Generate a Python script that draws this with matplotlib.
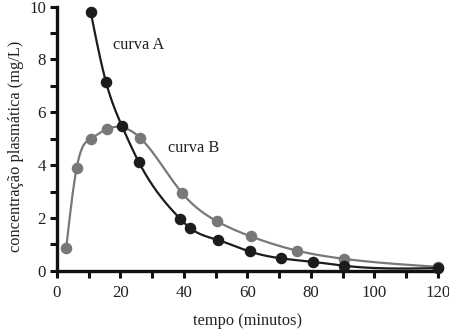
import numpy as np
import matplotlib
matplotlib.use("Agg")
import matplotlib.pyplot as plt

# Data
tempo_A = [10.6, 15.4, 20.5, 25.7, 38.8, 41.8, 50.6, 60.7, 70.6, 80.6, 90.4, 120]
conc_A = [9.8, 7.16, 5.47, 4.13, 1.97, 1.63, 1.17, 0.73, 0.47, 0.34, 0.19, 0.10]
tempo_B = [2.9, 6.2, 10.6, 15.8, 26.2, 39.5, 50.3, 61.1, 75.7, 90.5, 120]
conc_B = [0.87, 3.9, 5.0, 5.37, 5.03, 2.93, 1.88, 1.30, 0.76, 0.45, 0.15]
xticks_major = [0, 20, 40, 60, 80, 100, 120]
yticks_major = [0, 2, 4, 6, 8, 10]


def natural_spline(x, y, n=400):
    x = np.asarray(x, float); y = np.asarray(y, float)
    m = len(x)
    h = np.diff(x)
    A = np.zeros((m, m)); r = np.zeros(m)
    A[0, 0] = 1; A[-1, -1] = 1
    for i in range(1, m - 1):
        A[i, i - 1] = h[i - 1]
        A[i, i] = 2 * (h[i - 1] + h[i])
        A[i, i + 1] = h[i]
        r[i] = 6 * ((y[i + 1] - y[i]) / h[i] - (y[i] - y[i - 1]) / h[i - 1])
    M = np.linalg.solve(A, r)
    xs = np.linspace(x[0], x[-1], n)
    idx = np.clip(np.searchsorted(x, xs) - 1, 0, m - 2)
    x0 = x[idx]; x1 = x[idx + 1]; hh = x1 - x0
    a = (x1 - xs) / hh; b = (xs - x0) / hh
    ys = a * y[idx] + b * y[idx + 1] + ((a**3 - a) * M[idx] + (b**3 - b) * M[idx + 1]) * hh**2 / 6
    return xs, ys


plt.rcParams['font.family'] = ['Liberation Serif', 'DejaVu Serif']
fig = plt.figure(figsize=(4.49, 3.29), dpi=100)
ax = fig.add_axes([0.127, 0.177, 0.848, 0.803])

colA = '#1c1c1c'
colB = '#787878'

xs, ys = natural_spline(tempo_B, conc_B)
ax.plot(xs, ys, color=colB, lw=1.6, zorder=2)
ax.plot(tempo_B, conc_B, 'o', color=colB, ms=7.3, zorder=3)
xs, ys = natural_spline(tempo_A, conc_A)
ax.plot(xs, ys, color=colA, lw=1.6, zorder=4)
ax.plot(tempo_A, conc_A, 'o', color=colA, ms=7.3, zorder=5)

ax.text(25.7, 8.55, 'curva A', fontsize=11.8, ha='center', va='center', color='#222222')
ax.text(43.0, 4.66, 'curva B', fontsize=11.8, ha='center', va='center', color='#222222')

ax.set_xlim(0, 120)
ax.set_ylim(0, 10)
ax.set_xticks(xticks_major)
ax.set_xticks(np.arange(0, 121, 10), minor=True)
ax.set_yticks(yticks_major)
ax.set_yticks(np.arange(0, 11, 1), minor=True)
for s in ['top', 'right']:
    ax.spines[s].set_visible(False)
for s in ['left', 'bottom']:
    ax.spines[s].set_linewidth(2.4)
    ax.spines[s].set_color('#111111')
ax.tick_params(which='both', direction='out', length=5, width=2.2, color='#111111',
               labelsize=12.2, labelcolor='#222222', pad=3)
ax.tick_params(axis='x', pad=5)
ax.set_xlabel('tempo (minutos)', fontsize=11.8, color='#222222', labelpad=9)
ax.set_ylabel('concentração plasmática (mg/L)', fontsize=11.8, color='#222222')
ax.yaxis.set_label_coords(-0.088, 0.47)
for l in ax.lines:
    l.set_clip_on(False)

fig.savefig('out.png', dpi=100)
